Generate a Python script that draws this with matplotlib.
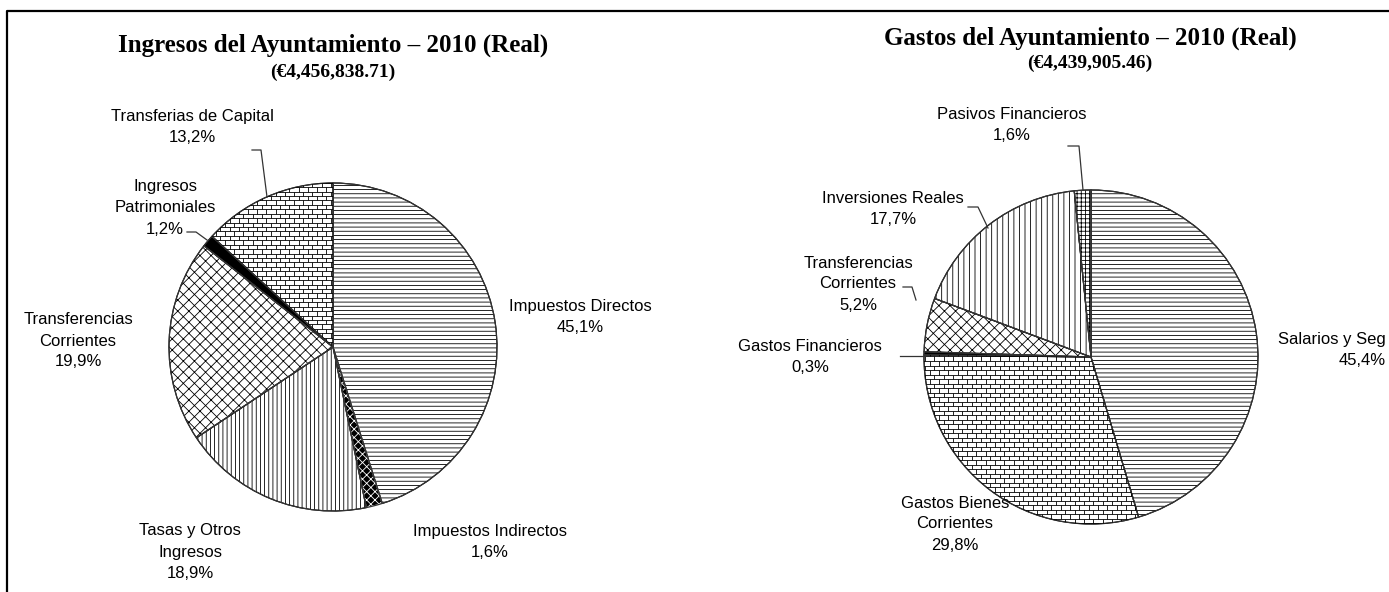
import numpy as np
import matplotlib.pyplot as plt
from matplotlib.collections import LineCollection
from matplotlib.lines import Line2D

plt.rcParams['hatch.linewidth'] = 0.6

# ingresos (left pie), clockwise from 12 o'clock
ing_labels = ["Impuestos Directos\n45,1%", "Impuestos Indirectos\n1,6%",
              "Tasas y Otros\nIngresos\n18,9%", "Transferencias\nCorrientes\n19,9%",
              "Ingresos\nPatrimoniales\n1,2%", "Transferias de Capital\n13,2%"]
ing_values = [45.1, 1.6, 18.9, 19.9, 1.2, 13.2]

# gastos (right pie)
gas_labels = ["Salarios y Seg\n45,4%", "Gastos Bienes\nCorrientes\n29,8%",
              "Gastos Financieros\n0,3%", "Transferencias\nCorrientes\n5,2%",
              "Inversiones Reales\n17,7%", "Pasivos Financieros\n1,6%"]
gas_values = [45.4, 29.8, 0.3, 5.2, 17.7, 1.6]

ing_title = "Ingresos del Ayuntamiento \u2013 2010 (Real)"
ing_total = "(\u20ac4,456,838.71)"
gas_title = "Gastos del Ayuntamiento \u2013 2010 (Real)"
gas_total = "(\u20ac4,439,905.46)"

W, H = 1389, 592
fig = plt.figure(figsize=(W / 100, H / 100), dpi=100)


def px_axes(cx, cy, r):
    # axes so that data radius 1 == r pixels, centred on (cx, cy) in image pixels
    return fig.add_axes([(cx - r) / W, (H - cy - r) / H, 2 * r / W, 2 * r / H])


def to_data(p, cx, cy, r):
    return (p[0] - cx) / r, -(p[1] - cy) / r


def add_bricks(ax, wedge, row_h=0.027, brick_w=0.056):
    segs = []
    ys = np.arange(-1.05, 1.05, row_h)
    for k, y in enumerate(ys):
        segs.append([(-1.05, y), (1.05, y)])
        off = (k % 2) * brick_w / 2
        for x in np.arange(-1.05 + off, 1.05, brick_w):
            segs.append([(x, y), (x, y + row_h)])
    lc = LineCollection(segs, colors='black', linewidths=0.6)
    ax.add_collection(lc)
    lc.set_clip_path(wedge)


def draw_pie(ax, values, styles):
    wedges, _ = ax.pie(values, startangle=90, counterclock=False, radius=1,
                       wedgeprops=dict(linewidth=0.8))
    for w, (fc, hc, hatch) in zip(wedges, styles):
        w.set_facecolor(fc)
        w.set_edgecolor(hc)
        if hatch == 'brick':
            add_bricks(ax, w)
        elif hatch:
            w.set_hatch(hatch)
    # outlines on top
    ax.pie(values, startangle=90, counterclock=False, radius=1,
           wedgeprops=dict(fill=False, edgecolor='#333333', linewidth=0.9))
    ax.set_xlim(-1, 1)
    ax.set_ylim(-1, 1)
    ax.set_aspect('equal')
    ax.axis('off')


lab_kw = dict(fontsize=12, family='Liberation Sans', linespacing=1.5,
              ha='center', va='center')
lead_kw = dict(color='#333333', linewidth=0.9, clip_on=False)

# ---- left pie
lcx, lcy, lr = 333, 347, 164
ax1 = px_axes(lcx, lcy, lr)
draw_pie(ax1, ing_values, [('white', 'black', '----'),
                           ('black', 'white', 'xxxx'),
                           ('white', 'black', '||||'),
                           ('white', 'black', 'xxx'),
                           ('black', 'black', None),
                           ('white', 'black', 'brick')])
ing_pos = [(580, 317), (490, 542), (190, 552), (78, 341), (165, 208), (192, 127)]
for lab, p in zip(ing_labels, ing_pos):
    ax1.text(*to_data(p, lcx, lcy, lr), lab, **lab_kw)
for line in [[(252, 150), (261, 150), (267, 197)],
             [(187, 232), (196, 232), (207, 240)]]:
    d = np.array([to_data(p, lcx, lcy, lr) for p in line])
    ax1.plot(d[:, 0], d[:, 1], **lead_kw)

# ---- right pie
rcx, rcy, rr = 1091, 357, 167
ax2 = px_axes(rcx, rcy, rr)
draw_pie(ax2, gas_values, [('white', 'black', '----'),
                           ('white', 'black', 'brick'),
                           ('black', 'black', None),
                           ('white', 'black', 'xxx'),
                           ('white', 'black', '|||'),
                           ('white', 'black', '++++')])
gas_pos = [(1386, 350), (955, 524), (810, 357), (858, 284), (893, 209), (1012, 125)]
for i, (lab, p) in enumerate(zip(gas_labels, gas_pos)):
    kw = dict(lab_kw)
    if i == 0:
        kw.update(ha='right', multialignment='right')
    ax2.text(*to_data(p, rcx, rcy, rr), lab, **kw)
for line in [[(1068, 146), (1079, 146), (1083, 190)],
             [(968, 207), (978, 207), (988, 228)],
             [(903, 287), (912, 287), (916, 300)],
             [(900, 356), (925, 356)]]:
    d = np.array([to_data(p, rcx, rcy, rr) for p in line])
    ax2.plot(d[:, 0], d[:, 1], **lead_kw)

# ---- titles
t_kw = dict(family='Liberation Serif', weight='bold', ha='center', va='center')
fig.text(333 / W, 1 - 45 / H, ing_title, fontsize=18, **t_kw)
fig.text(333 / W, 1 - 72 / H, ing_total, fontsize=14, **t_kw)
fig.text(1090 / W, 1 - 38 / H, gas_title, fontsize=18, **t_kw)
fig.text(1090 / W, 1 - 63 / H, gas_total, fontsize=14, **t_kw)

# outer frame (top and left edges visible)
fig.add_artist(Line2D([7 / W, 7 / W, 1], [0, 1 - 11 / H, 1 - 11 / H],
                      color='black', linewidth=1.6, transform=fig.transFigure))

fig.savefig('out.png', dpi=100)
